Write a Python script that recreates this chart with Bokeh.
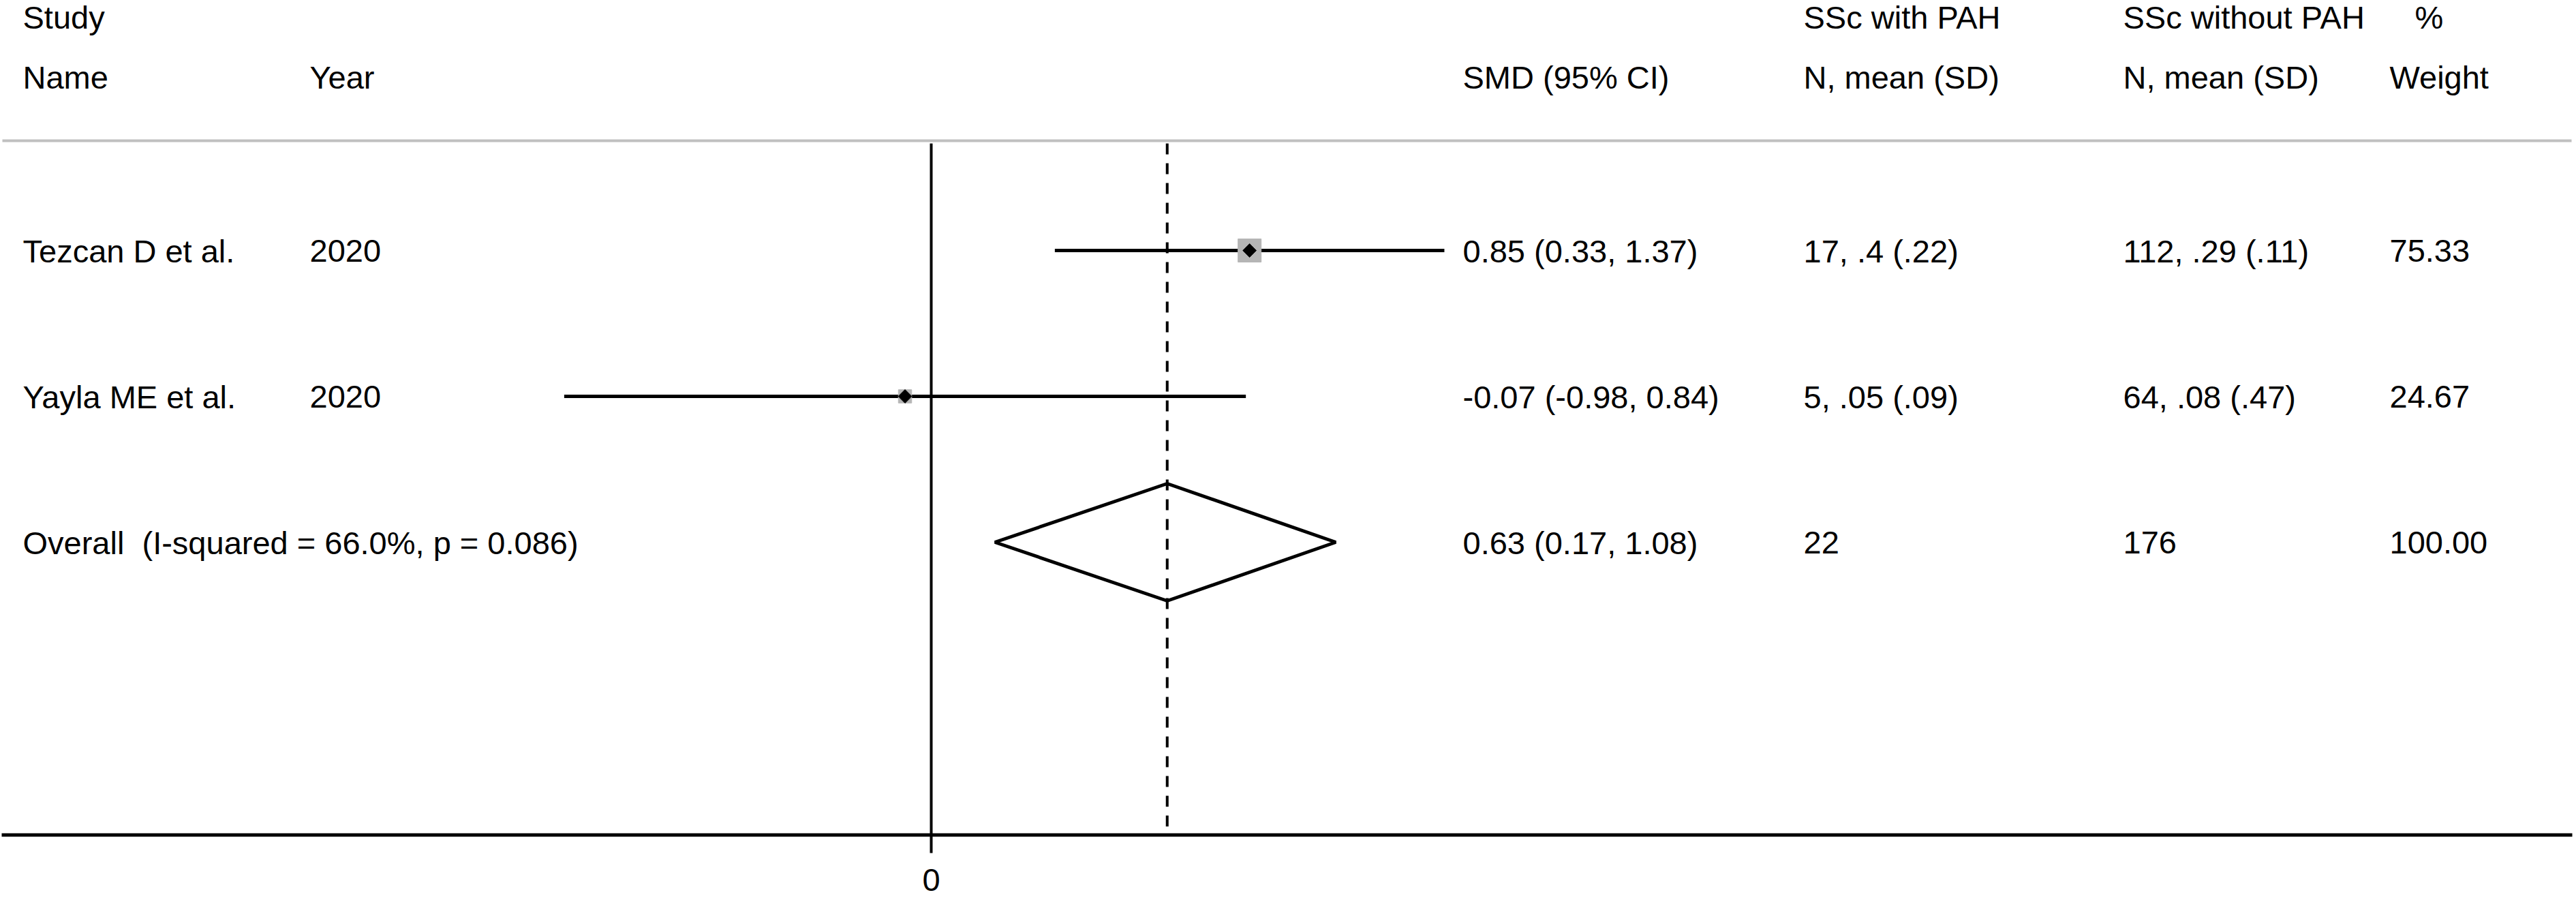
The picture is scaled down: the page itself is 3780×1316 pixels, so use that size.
from bokeh.plotting import figure
from bokeh.models import Range1d, Span
from bokeh.core.properties import value
from bokeh.embed import file_html
from bokeh.resources import INLINE

# ---------------- data ----------------
studies = ["Tezcan D et al.", "Yayla ME et al."]
years = ["2020", "2020"]
smd = [0.85, -0.07]
ci_lo = [0.33, -0.98]
ci_hi = [1.37, 0.84]
n_pah = [17, 5]
mean_pah = [".4", ".05"]
sd_pah = [".22", ".09"]
n_nopah = [112, 64]
mean_nopah = [".29", ".08"]
sd_nopah = [".11", ".47"]
weights = [75.33, 24.67]

overall_smd = 0.63
overall_lo = 0.17
overall_hi = 1.08
overall_i2 = 66.0
overall_p = 0.086
overall_n_pah = 22
overall_n_nopah = 176
overall_weight = 100.00

x_ticks = [0]

# ---------------- layout helpers (reference pixel -> data) ----------------
X0_PX, X_SCALE = 1366.0, 549.6
Y0_PX, ROW_PX = 153.0, 214.0
TEXT_SHIFT = 17.5  # empirical correction of text baseline placement (px)


def px2x(px):
    return (px - X0_PX) / X_SCALE


def px2y(py):
    return (py - Y0_PX) / ROW_PX


FONT = value("Liberation Sans")
FS = "47px"
OFF = 0
W, H = 3780, 1316

p = figure(width=W, height=H, output_backend="svg", toolbar_location=None,
           x_range=Range1d(px2x(OFF), px2x(OFF + W)),
           y_range=Range1d(px2y(OFF + H), px2y(OFF)),
           x_axis_location=None, y_axis_location=None,
           min_border=0, min_border_left=0, min_border_right=0,
           min_border_top=0, min_border_bottom=0)
p.grid.visible = False
p.outline_line_color = None
p.background_fill_color = "white"
p.border_fill_color = "white"

rows = list(range(1, len(studies) + 1))
overall_row = len(studies) + 1
BASE = (18.0 - TEXT_SHIFT) / ROW_PX  # baseline offset below row centre

top_y = px2y(210)
axis_y = px2y(1224.5)
tick_end = px2y(1251)

# header separator and bottom axis line
p.segment(x0=[px2x(3)], y0=[px2y(206)], x1=[px2x(3773)], y1=[px2y(206)],
          line_color="#c0c0c0", line_width=4)
p.segment(x0=[px2x(2)], y0=[axis_y], x1=[px2x(3774)], y1=[axis_y],
          line_color="black", line_width=5)

# null line at 0 (with tick) and dashed overall line
p.segment(x0=[0], y0=[top_y], x1=[0], y1=[tick_end], line_color="black", line_width=4)
p.segment(x0=[overall_smd], y0=[top_y], x1=[overall_smd], y1=[axis_y],
          line_color="black", line_width=4, line_dash="16 13")

# confidence intervals
p.segment(x0=ci_lo, y0=rows, x1=ci_hi, y1=rows, line_color="black", line_width=5)

# weight boxes
box_sizes = [3.92 * (w ** 0.5) for w in weights]
p.scatter(x=smd, y=rows, size=box_sizes, marker="square",
          fill_color="#b5b5b5", line_color="#b5b5b5", line_width=1)
# point estimates
p.scatter(x=smd, y=rows, size=14, marker="square", angle=0.785398,
          fill_color="black", line_color="black")

# overall diamond
h = 86.0 / ROW_PX
p.patch(x=[overall_lo, overall_smd, overall_hi, overall_smd, overall_lo],
        y=[overall_row, overall_row - h, overall_row, overall_row + h, overall_row],
        fill_color=None, line_color="black", line_width=5)


def txt(xpx, ys, texts, align="left"):
    p.text(x=[px2x(xpx)] * len(texts), y=ys, text=texts, text_font=FONT,
           text_font_size=FS, text_color="black", text_align=align,
           text_baseline="alphabetic")


# headers
hy1, hy2 = px2y(42 - TEXT_SHIFT), px2y(130 - TEXT_SHIFT)
txt(33, [hy1, hy2], ["Study", "Name"])
txt(454, [hy2], ["Year"])
txt(2146, [hy2], ["SMD (95% CI)"])
txt(2646, [hy1, hy2], ["SSc with PAH", "N, mean (SD)"])
txt(3115, [hy1, hy2], ["SSc without PAH", "N, mean (SD)"])
txt(3543, [hy1], ["%"])
txt(3506, [hy2], ["Weight"])

# study rows
ys = [r + BASE for r in rows]
txt(33, ys, studies)
txt(454, ys, years)


def fmt(v):
    return f"{v:.2f}"


txt(2146, ys, [f"{fmt(s)} ({fmt(l)}, {fmt(u)})" for s, l, u in zip(smd, ci_lo, ci_hi)])
txt(2646, ys, [f"{n}, {m} ({s})" for n, m, s in zip(n_pah, mean_pah, sd_pah)])
txt(3115, ys, [f"{n}, {m} ({s})" for n, m, s in zip(n_nopah, mean_nopah, sd_nopah)])
txt(3506, ys, [fmt(w) for w in weights])

# overall row
oy = [overall_row + BASE]
txt(33, oy, [f"Overall\u00a0 (I-squared = {overall_i2:.1f}%, p = {overall_p:.3f})"])
txt(2146, oy, [f"{fmt(overall_smd)} ({fmt(overall_lo)}, {fmt(overall_hi)})"])
txt(2646, oy, [str(overall_n_pah)])
txt(3115, oy, [str(overall_n_nopah)])
txt(3506, oy, [fmt(overall_weight)])

# x tick label
p.text(x=x_ticks, y=[px2y(1308 - TEXT_SHIFT)] * len(x_ticks), text=[str(t) for t in x_ticks],
       text_font=FONT, text_font_size=FS, text_color="black",
       text_align="center", text_baseline="alphabetic")

open("out.html", "w").write(file_html(p, INLINE))
